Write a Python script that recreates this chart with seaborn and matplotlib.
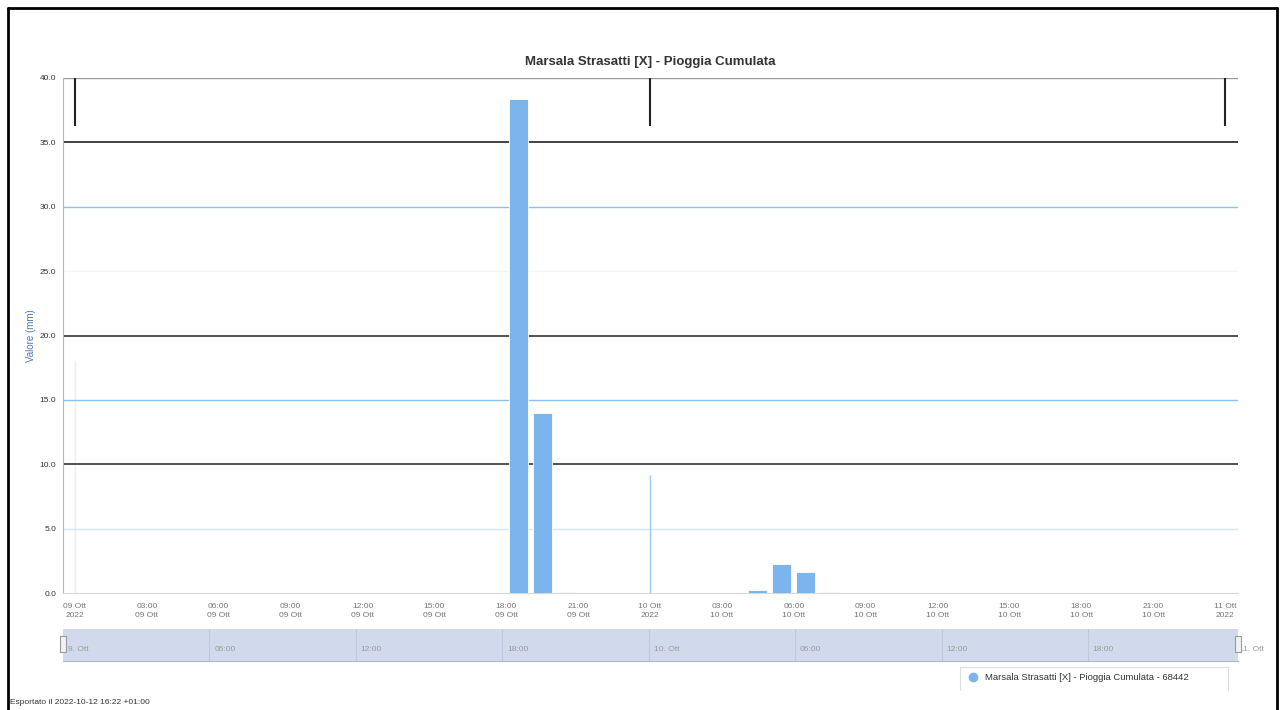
import matplotlib
matplotlib.use("Agg")
import matplotlib.pyplot as plt
from matplotlib.lines import Line2D
from matplotlib.patches import Rectangle
import seaborn as sns
import pandas as pd

# hourly rain (bar centres in hours from 09 Ott 00:00)
bar_hours = [18.5, 19.5, 20.5, 28.5, 29.5, 30.5, 31.5]
rain_mm = [38.4, 14.0, 0.1, 0.23, 2.25, 1.63, 0.08]

y_ticks = [0, 5, 10, 15, 20, 25, 30, 35, 40]
x_tick_hours = list(range(0, 49, 3))
x_tick_labels = ["09 Ott\n2022", "03:00\n09 Ott", "06:00\n09 Ott", "09:00\n09 Ott",
                 "12:00\n09 Ott", "15:00\n09 Ott", "18:00\n09 Ott", "21:00\n09 Ott",
                 "10 Ott\n2022", "03:00\n10 Ott", "06:00\n10 Ott", "09:00\n10 Ott",
                 "12:00\n10 Ott", "15:00\n10 Ott", "18:00\n10 Ott", "21:00\n10 Ott",
                 "11 Ott\n2022"]
nav_hours = [0, 6, 12, 18, 24, 30, 36, 42, 48]
nav_labels = ["9. Ott", "06:00", "12:00", "18:00", "10. Ott", "06:00", "12:00", "18:00", "11. Ott"]

title = "Marsala Strasatti [X] - Pioggia Cumulata"
series_name = "Marsala Strasatti [X] - Pioggia Cumulata - 68442"
export_note = "Esportato il 2022-10-12 16:22 +01:00"

W, H = 1284, 710
sns.set_style("white")
plt.rcParams['font.family'] = ['Liberation Sans', 'DejaVu Sans']

fig = plt.figure(figsize=(W / 100, H / 100), dpi=100)


def fx(x):
    return x / W


def fy(y):
    return 1 - y / H


# main chart area
ax = fig.add_axes([fx(63), fy(593), fx(1238) - fx(63), fy(78) - fy(593)])
df = pd.DataFrame({"ora": bar_hours, "mm": rain_mm})
sns.barplot(data=df, x="ora", y="mm", native_scale=True, color="#7cb5ec",
            saturation=1, errorbar=None, edgecolor="white", linewidth=0.6, ax=ax, zorder=3)
ax.set_xlim(-0.5, 48.54)
ax.set_ylim(0, 40)

# odd gridline colours as in the export
grid_cols = {5: "#d6e6f5", 10: "#333333", 15: "#8cc0ee", 20: "#333333",
             25: "#f2f6fb", 30: "#8cc0ee", 35: "#222222", 40: "#999999"}
for v, c in grid_cols.items():
    ax.axhline(v, color=c, lw=1.2 if c.startswith("#3") or c.startswith("#2") else 1.0, zorder=1)

ax.vlines([0, 24, 48], 36.3, 40, color="#222222", lw=1.5, zorder=2)
ax.vlines([24], 0, 9.2, color="#9ccaf2", lw=1.0, zorder=2)
ax.vlines([0], 0, 18.0, color="#eeeeee", lw=1.0, zorder=0)

for s in ["top", "right"]:
    ax.spines[s].set_visible(False)
ax.spines["left"].set_color("#8cc0ee")
ax.spines["bottom"].set_color("#d8d8d8")

ax.set_yticks(y_ticks)
ax.set_yticklabels([f"{v:.1f}" for v in y_ticks], fontsize=6, color="#333333")
ax.tick_params(axis="y", length=4, color="#8cc0ee", pad=1)
ax.set_xticks(x_tick_hours)
ax.set_xticklabels(x_tick_labels, fontsize=6, color="#777777", linespacing=1.4)
ax.tick_params(axis="x", length=4, color="#dddddd", pad=3)
ax.set_xlabel("")
ax.set_ylabel("Valore (mm)", fontsize=7, color="#4a7ab5")
ax.yaxis.set_label_coords(-0.023, 0.5)
ax.set_title(title, fontsize=9.5, fontweight="bold", color="#333333", pad=9)

# navigator
nav = fig.add_axes([fx(63), fy(661), fx(1238) - fx(63), fy(629) - fy(661)])
nav.set_facecolor("#d1daed")
nav.set_xlim(0, 48.15)
nav.set_ylim(0, 1)
nav.set_xticks([])
nav.set_yticks([])
for s in nav.spines.values():
    s.set_visible(False)
nav.spines["bottom"].set_visible(True)
nav.spines["bottom"].set_color("#b0b8c8")
for h, lab in zip(nav_hours, nav_labels):
    if 0 < h < 48:
        nav.axvline(h, color="#c0c8dc", lw=0.8)
    nav.text(h + 0.2, 0.3, lab, fontsize=6, color="#999999", clip_on=False, zorder=5)
for hx in [63, 1238]:
    fig.add_artist(Rectangle((fx(hx - 3), fy(652)), fx(6), fy(636) - fy(652),
                             facecolor="#f2f2f2", edgecolor="#999999", lw=0.8, zorder=3))

# legend box
fig.add_artist(Line2D([fx(960), fx(1228)], [fy(667), fy(667)], color="#dddddd", lw=0.8))
fig.add_artist(Line2D([fx(960), fx(960)], [fy(667), fy(690)], color="#dddddd", lw=0.8))
fig.add_artist(Line2D([fx(1228), fx(1228)], [fy(667), fy(690)], color="#dddddd", lw=0.8))
fig.add_artist(Line2D([fx(973)], [fy(677)], marker="o", markersize=6,
                      color="#7cb5ec", lw=0))
fig.text(fx(985), fy(677), series_name, fontsize=6.8, color="#333333", va="center")

fig.text(fx(10), fy(703), export_note, fontsize=6, color="#333333", va="center")

# page frame
fig.add_artist(Line2D([fx(8), fx(8)], [0, fy(8)], color="black", lw=2))
fig.add_artist(Line2D([fx(8), fx(1277)], [fy(8), fy(8)], color="black", lw=2))
fig.add_artist(Line2D([fx(1277), fx(1277)], [0, fy(8)], color="black", lw=2))

fig.savefig("out.png", dpi=100)
